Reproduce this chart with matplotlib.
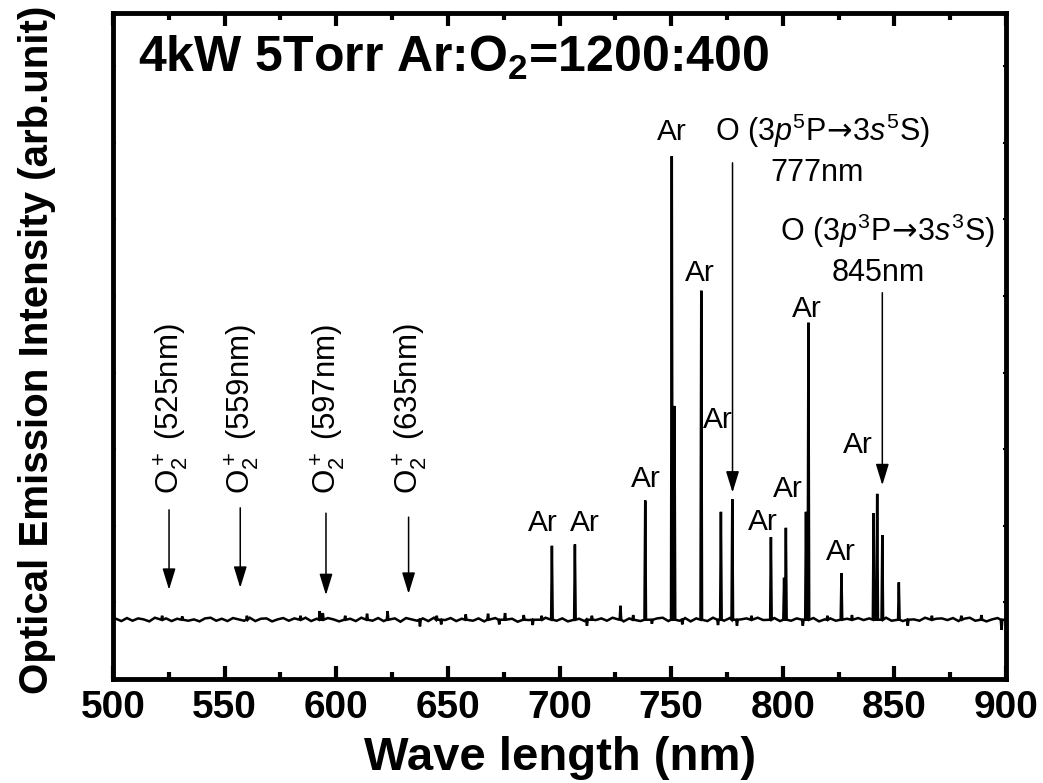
import numpy as np
import matplotlib
matplotlib.use("Agg")
import matplotlib.pyplot as plt
from matplotlib.ticker import MultipleLocator

plt.rcParams['font.family'] = ['Liberation Sans', 'DejaVu Sans']
plt.rcParams['mathtext.fontset'] = 'custom'
plt.rcParams['mathtext.rm'] = 'Liberation Sans'
plt.rcParams['mathtext.it'] = 'Liberation Sans:italic'
plt.rcParams['mathtext.bf'] = 'Liberation Sans:bold'
plt.rcParams['mathtext.sf'] = 'DejaVu Sans'

# spectrum (arb. units, axis 0..100)
baseline = 8.9
peak_wl = [696.6, 706.9, 727.3, 738.4, 750.3, 751.5, 763.5, 772.3, 777.4,
           794.7, 800.6, 801.4, 810.4, 811.5, 826.3, 840.7, 842.3, 844.6, 852.0]
peak_h = [20.0, 20.2, 11.0, 26.8, 78.5, 41.0, 58.3, 25.1, 27.0,
          21.3, 15.2, 22.7, 25.1, 53.5, 15.9, 24.9, 27.8, 21.6, 14.5]
# larger noise spikes (offset from baseline)
spike_wl = [522, 531, 560, 584, 592.6, 594, 604, 613.8, 623, 637.5, 645, 647,
            658, 668, 673, 675.6, 684, 688, 692, 712.3, 714.5, 733, 741.4, 755,
            771, 779.5, 786, 809, 820, 831, 856, 866.8, 880, 889, 898]
spike_dy = [0.6, 0.5, 0.6, 0.6, 1.3, 1.0, 0.6, 0.9, 1.3, -1.0, 0.6, -0.7,
            0.8, 0.9, -0.7, 1.0, 0.7, -0.8, 0.6, -0.9, 0.6, 0.7, -0.6, -0.7,
            -0.8, -0.9, 0.6, -0.9, 0.6, 0.7, -0.9, 0.6, 0.6, 0.7, -1.5]
# fine baseline noise, one value every 2.5 nm from 501.25 nm
fine_noise = [
    0.15, -0.2, 0.25, -0.15, 0.2, 0.05, -0.25, 0.3, -0.05, 0.2, -0.2, 0.15, 0.25, -0.15, 0.05, -0.25, 0.2, 0.3, -0.15, 0.15,
    -0.2, 0.25, 0.05, -0.15, 0.3, -0.2, 0.15, 0.2, -0.25, 0.05, 0.25, -0.15, 0.2, -0.05, 0.3, -0.2, 0.15, -0.15, 0.25, 0.05,
    -0.25, 0.2, 0.15, -0.2, 0.3, 0.05, -0.15, 0.25, -0.2, 0.15, 0.2, -0.3, 0.25, 0.05, -0.15, 0.2, -0.2, 0.3, 0.15, -0.05,
    0.25, -0.2, 0.15, 0.3, -0.15, 0.2, -0.25, 0.05, 0.25, -0.15, 0.2, 0.15, -0.3, 0.25, -0.05, 0.2, -0.2, 0.3, 0.05, -0.15,
    0.2, -0.25, 0.3, 0.15, -0.2, 0.25, -0.05, 0.2, -0.15, 0.3, 0.05, -0.25, 0.2, 0.15, -0.2, 0.25, -0.15, 0.2, 0.3, -0.2,
    0.15, -0.15, 0.25, -0.25, 0.2, 0.05, -0.2, 0.3, 0.15, -0.15, 0.25, -0.2, 0.05, 0.2, -0.25, 0.3, -0.05, 0.15, 0.25, -0.2,
    0.3, -0.15, 0.2, -0.2, 0.15, 0.25, -0.25, 0.05, 0.2, -0.15, 0.3, 0.15, -0.2, 0.25, -0.05, 0.2, -0.25, 0.15, 0.3, -0.15,
    0.2, -0.2, 0.25, 0.05, -0.15, 0.3, -0.25, 0.15, 0.2, -0.05, 0.25, -0.2, 0.15, 0.3, -0.15, 0.2, -0.25, 0.05, 0.25, -0.2]

o2_wl = [525.1, 557.0, 595.4, 632.4]
o2_text = ["525nm", "559nm", "597nm", "635nm"]

ar_label_wl = [692.6, 711.4, 738.7, 750.3, 762.9, 771.0, 791.2, 802.4, 811.0, 825.9, 833.8]
ar_label_y = [22.2, 22.2, 28.8, 81.0, 59.7, 37.7, 22.4, 27.4, 54.4, 17.9, 33.9]

# build the trace: narrow spikes on a noisy baseline
tri = sorted([(w, h) for w, h in zip(peak_wl, peak_h)] +
             [(w, baseline + dy) for w, dy in zip(spike_wl, spike_dy)])
tri_wl = np.array([t[0] for t in tri])
fine_wl = 501.25 + 2.5 * np.arange(len(fine_noise))
pts = []
for w, h in tri:
    pts += [(w - 0.35, baseline), (w, h), (w + 0.35, baseline)]
for w, dy in zip(fine_wl, fine_noise):
    if np.min(np.abs(tri_wl - w)) > 1.0:
        pts.append((w, baseline + dy))
pts.sort()
xs = [500.0] + [p[0] for p in pts] + [900.0]
ys = [baseline] + [p[1] for p in pts] + [baseline]

fig = plt.figure(figsize=(10.43, 7.83), dpi=100)
ax = fig.add_axes([113 / 1043, 1 - 679 / 783, 893 / 1043, 666 / 783])
ax.plot(xs, ys, color='black', lw=1.8, solid_joinstyle='miter')

ax.set_xlim(500, 900)
ax.set_ylim(0, 100)
ax.xaxis.set_major_locator(MultipleLocator(50))
ax.xaxis.set_minor_locator(MultipleLocator(25))
ax.yaxis.set_major_locator(MultipleLocator(11.5))
ax.tick_params(axis='x', which='major', direction='in', length=9.5, width=3,
               top=True, labelsize=28, pad=8)
ax.tick_params(axis='x', which='minor', direction='in', length=5, width=3, top=True)
ax.tick_params(axis='y', which='major', direction='in', length=2.5, width=1.5,
               right=True, labelleft=False)
for lab in ax.get_xticklabels():
    lab.set_fontweight('bold')
for s in ax.spines.values():
    s.set_linewidth(3.5)

fig.text(0.537, 1 - 770 / 783, 'Wave length (nm)', ha='center', va='baseline',
         fontsize=34, fontweight='bold')
fig.text(0.035, 1 - 350 / 783, 'Optical Emission Intensity (arb.unit)', rotation=90,
         ha='center', va='center', fontsize=29, fontweight='bold')

ax.text(25 / 893, 0.911, r'4kW 5Torr Ar:O$_\mathbf{2}$=1200:400',
        transform=ax.transAxes, ha='left', va='baseline', fontsize=36, fontweight='bold')

arr = dict(arrowstyle='-|>,head_length=0.65,head_width=0.2', color='black', lw=1.1,
           mutation_scale=20, shrinkA=0, shrinkB=0)

# O2+ bands
o2_start = [25.4, 25.7, 24.9, 24.3]
o2_tip = [13.4, 13.7, 12.6, 12.8]
for w, t, y0, y1 in zip(o2_wl, o2_text, o2_start, o2_tip):
    ax.annotate('', xy=(w, y1), xytext=(w, y0), arrowprops=arr)
    ax.text(w + 0.8, 27.8, r'O$_2^+$ (' + t + ')', rotation=90, ha='center',
            va='bottom', fontsize=22.5)

# O lines
ax.annotate('', xy=(777.5, 28.0), xytext=(777.5, 77.5), arrowprops=arr)
ax.annotate('', xy=(844.6, 29.1), xytext=(844.6, 58.0), arrowprops=arr)
ax.text(818.0, 80.8,
        r'O (3$\mathit{p}^5\mathrm{P}\!\mathsf{\rightarrow}\!3\mathit{s}^5\mathrm{S}$)',
        ha='center', va='baseline', fontsize=22)
ax.text(815.2, 74.8, '777nm', ha='center', va='baseline', fontsize=22)
ax.text(847.1, 65.7,
        r'O (3$\mathit{p}^3\mathrm{P}\!\mathsf{\rightarrow}\!3\mathit{s}^3\mathrm{S}$)',
        ha='center', va='baseline', fontsize=22)
ax.text(842.6, 59.7, '845nm', ha='center', va='baseline', fontsize=22)

for w, y in zip(ar_label_wl, ar_label_y):
    ax.text(w, y, 'Ar', ha='center', va='baseline', fontsize=21.5)

fig.savefig('out.png', dpi=100)
